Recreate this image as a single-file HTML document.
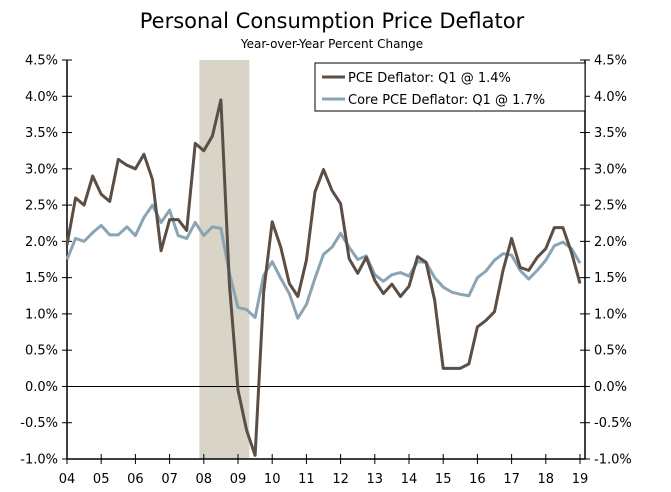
<!DOCTYPE html>
<html><head><meta charset="utf-8"><style>
body{margin:0;background:#fff;}
svg text{font-family:"DejaVu Sans","Liberation Sans",sans-serif;fill:#000;}
</style></head><body>
<svg id="chart" width="671" height="487">
<text x="332" y="28" font-size="21" text-anchor="middle">Personal Consumption Price Deflator</text>
<text x="332" y="48" font-size="12" text-anchor="middle">Year-over-Year Percent Change</text>
<g id="plot"></g>
<g>
<rect x="315" y="63" width="270" height="48" fill="#fff" stroke="#000" stroke-width="1"/>
<line x1="322" y1="77" x2="345" y2="77" stroke="#5a4e45" stroke-width="3"/>
<text x="348" y="82" font-size="13">PCE Deflator: Q1 @ 1.4%</text>
<line x1="322" y1="99" x2="345" y2="99" stroke="#8ba4b3" stroke-width="3"/>
<text x="348" y="104" font-size="13">Core PCE Deflator: Q1 @ 1.7%</text>
</g>
</svg>
<script>
const yearLabels=["04","05","06","07","08","09","10","11","12","13","14","15","16","17","18","19"];
const yTicks=[4.5,4.0,3.5,3.0,2.5,2.0,1.5,1.0,0.5,0.0,-0.5,-1.0];
const pce=[1.95,2.6,2.5,2.9, 2.65,2.55,3.13,3.05, 3.0,3.2,2.85,1.87, 2.3,2.3,2.15,3.35, 3.25,3.45,3.95,1.4, -0.05,-0.6,-0.95,1.3, 2.27,1.92,1.42,1.24, 1.74,2.68,2.99,2.7, 2.52,1.76,1.56,1.78, 1.46,1.28,1.41,1.24, 1.38,1.79,1.71,1.19, 0.25,0.25,0.25,0.31, 0.82,0.91,1.03,1.6, 2.04,1.64,1.6,1.78, 1.9,2.19,2.19,1.85, 1.42];
const corePce=[1.75,2.04,2.0,2.12, 2.22,2.09,2.09,2.2, 2.08,2.33,2.5,2.26, 2.43,2.08,2.04,2.26, 2.08,2.2,2.18,1.56, 1.09,1.06,0.95,1.53, 1.72,1.49,1.28,0.94, 1.13,1.49,1.82,1.92, 2.11,1.92,1.75,1.8, 1.54,1.45,1.54,1.57, 1.52,1.72,1.71,1.5, 1.37,1.3,1.27,1.25, 1.5,1.59,1.74,1.83, 1.81,1.6,1.48,1.6, 1.74,1.94,1.99,1.9, 1.7];
const recession=[2007.87,2009.33];

const L=67,R=585,T=60,B=459;
const xq=i=>L+i*(34.2/4);
const xt=t=>L+(t-2004)*34.2;
const y=v=>T+(4.5-v)*(B-T)/5.5;
const NS="http://www.w3.org/2000/svg";
const g=document.getElementById('plot');
function mk(tag,attrs){const e=document.createElementNS(NS,tag);for(const k in attrs)e.setAttribute(k,attrs[k]);g.appendChild(e);return e;}

const sh=mk('rect',{x:xt(recession[0]),y:T,width:xt(recession[1])-xt(recession[0]),height:B-T,fill:'#d8d4c8'});



const zl=mk('line',{x1:L,x2:R,y1:y(0),y2:y(0),stroke:'#000','stroke-width':1});



[[L,'left-axis'],[R,'right-axis']].forEach(([x,n])=>{
 const a=mk('line',{x1:x,x2:x,y1:T,y2:B,stroke:'#000','stroke-width':1.5});
 
 
});
const xa=mk('line',{x1:L,x2:R,y1:B,y2:B,stroke:'#000','stroke-width':1.5});



yTicks.forEach(v=>{
 const yy=y(v);
 mk('line',{x1:L-5,x2:L+5,y1:yy,y2:yy,stroke:'#000','stroke-width':1});
 mk('line',{x1:R-5,x2:R+5,y1:yy,y2:yy,stroke:'#000','stroke-width':1});
 const t1=mk('text',{x:L-9,y:yy+4.5,'font-size':13,'text-anchor':'end'});
 t1.textContent=v.toFixed(1)+'%';
 
 
 const t2=mk('text',{x:R+9,y:yy+4.5,'font-size':13,'text-anchor':'start'});
 t2.textContent=v.toFixed(1)+'%';
 
 
});
yearLabels.forEach((lab,i)=>{
 const xx=xt(2004+i);
 mk('line',{x1:xx,x2:xx,y1:B-5,y2:B+5,stroke:'#000','stroke-width':1});
 const t=mk('text',{x:xx,y:B+24,'font-size':13,'text-anchor':'middle'});
 t.textContent=lab;
 
 
});

function line(arr,color,name){
 const p=mk('polyline',{points:arr.map((v,i)=>xq(i)+','+y(v)).join(' '),fill:'none',stroke:color,'stroke-width':3,'stroke-linejoin':'round'});
 
 
}
line(corePce,'#8ba4b3','core-pce-line');
line(pce,'#5a4e45','pce-line');
</script>
</body></html>
